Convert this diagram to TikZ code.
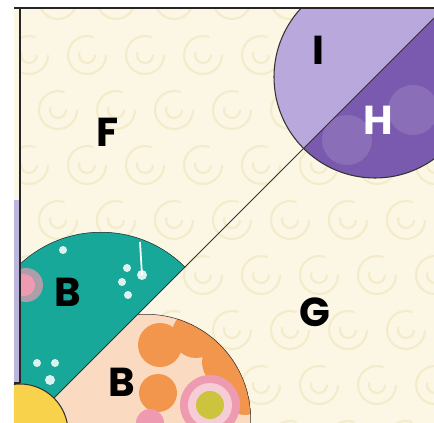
\documentclass[tikz,border=0pt]{standalone}
\usepackage{fontspec}
\newfontfamily\quiltfont{Poppins}
\definecolor{cream}{HTML}{FBF7E4}
\definecolor{swirlcol}{HTML}{F3EBCA}
\definecolor{lilac}{HTML}{BCB6DE}
\definecolor{lavender}{HTML}{B9A8DB}
\definecolor{plum}{HTML}{7A5AAE}
\definecolor{tealfab}{HTML}{17A89A}
\definecolor{peach}{HTML}{FADBC2}
\definecolor{orangefab}{HTML}{F2964E}
\definecolor{pinkfab}{HTML}{EE9AB0}
\definecolor{sunfab}{HTML}{F7D24A}
\definecolor{limefab}{HTML}{CBC43C}

\begin{document}
\begin{tikzpicture}[x=0.02cm,y=-0.02cm,
    letter/.style={font=\quiltfont\bfseries\fontsize{23}{23}\selectfont,inner sep=0pt},
    seam/.style={draw=black!80,line width=0.6pt},
    border/.style={draw=black!85,line width=0.9pt},
    swirl/.style={draw=swirlcol,line width=1.2pt}]
\useasboundingbox (0,0) rectangle (434,423);
\fill[white] (0,0) rectangle (434,423);

% strip left of the block
\fill[cream] (14,8) rectangle (20,200);
\fill[lilac] (14,200) rectangle (20,383);

\begin{scope}
    \clip (20,8) rectangle (434,423);
    \fill[cream] (20,8) rectangle (434,423);
    \foreach \row in {0,...,8} {
        \foreach \col in {0,...,8} {
            \draw[swirl] ({\col*58+mod(\row,2)*29+19},{\row*55})
                arc[start angle=0,end angle=290,radius=19];
            \draw[swirl] ({\col*58+mod(\row,2)*29+8},{\row*55})
                arc[start angle=0,end angle=200,radius=8];
        }
    }

    % orange patch, right of the diagonal
    \begin{scope}
        \clip (-100,552) -- (552,-100) -- (600,600) -- cycle;
        \clip (146,419) circle (105);
        \fill[peach] (146,419) circle (105);
        \fill[orangefab] (160,345) circle (22) (196,334) circle (24)
            (228,362) circle (26) (158,393) circle (19) (245,395) circle (20);
        \fill[pinkfab] (210,405) circle (30);
        \fill[white,opacity=0.5] (210,405) circle (22);
        \fill[limefab] (210,405) circle (14);
        \fill[pinkfab] (150,423) circle (14);
        \draw[seam] (146,419) circle (105);
    \end{scope}

    % teal patch, left of the diagonal
    \begin{scope}
        \clip (-100,552) -- (552,-100) -- (-100,-100) -- cycle;
        \clip (101,351) circle (119);
        \fill[tealfab] (101,351) circle (119);
        \fill[pinkfab!70!tealfab] (26,285) circle (17);
        \fill[pinkfab] (24,285) circle (11);
        \fill[white,opacity=0.85] (127,268) circle (4) (122,282) circle (4)
            (128,295) circle (4) (142,275) circle (5) (63,250) circle (4)
            (37,363) circle (4) (55,363) circle (4) (50,380) circle (5);
        \draw[white,line width=1pt] (142,275) -- (140,242);
        \draw[seam] (101,351) circle (119);
    \end{scope}

    % purple circle at the top right
    \begin{scope}
        \clip (375,77) circle (101);
        \fill[lavender] (375,77) circle (101);
        \fill[plum] (-100,552) -- (552,-100) -- (600,600) -- cycle;
        \fill[white,opacity=0.12] (347,140) circle (25) (413,110) circle (25);
    \end{scope}
    \draw[seam] (375,77) circle (101);
\end{scope}

% yellow corner
\begin{scope}
    \clip (14,0) rectangle (434,423);
    \fill[sunfab] (20,432) circle (48);
    \draw[seam] (20,432) circle (48);
\end{scope}

% seams and block edges
\coordinate (dstart) at (54,398);
\coordinate (dend) at (434,18);
\draw[seam] (dstart) -- (dend);
\draw[border] (14,8) -- (434,8);
\draw[border] (20,8) -- (20,383);
\draw[border] (14,383) -- (20,383);

\node[letter] (f) at (108,132) {F};
\node[letter] (i) at (318,50) {I};
\node[letter,text=white] (h) at (378,120) {H};
\node[letter] (bteal) at (68,292) {B};
\node[letter] (borange) at (122,382) {B};
\node[letter] (g) at (315,312) {G};
\end{tikzpicture}
\end{document}
